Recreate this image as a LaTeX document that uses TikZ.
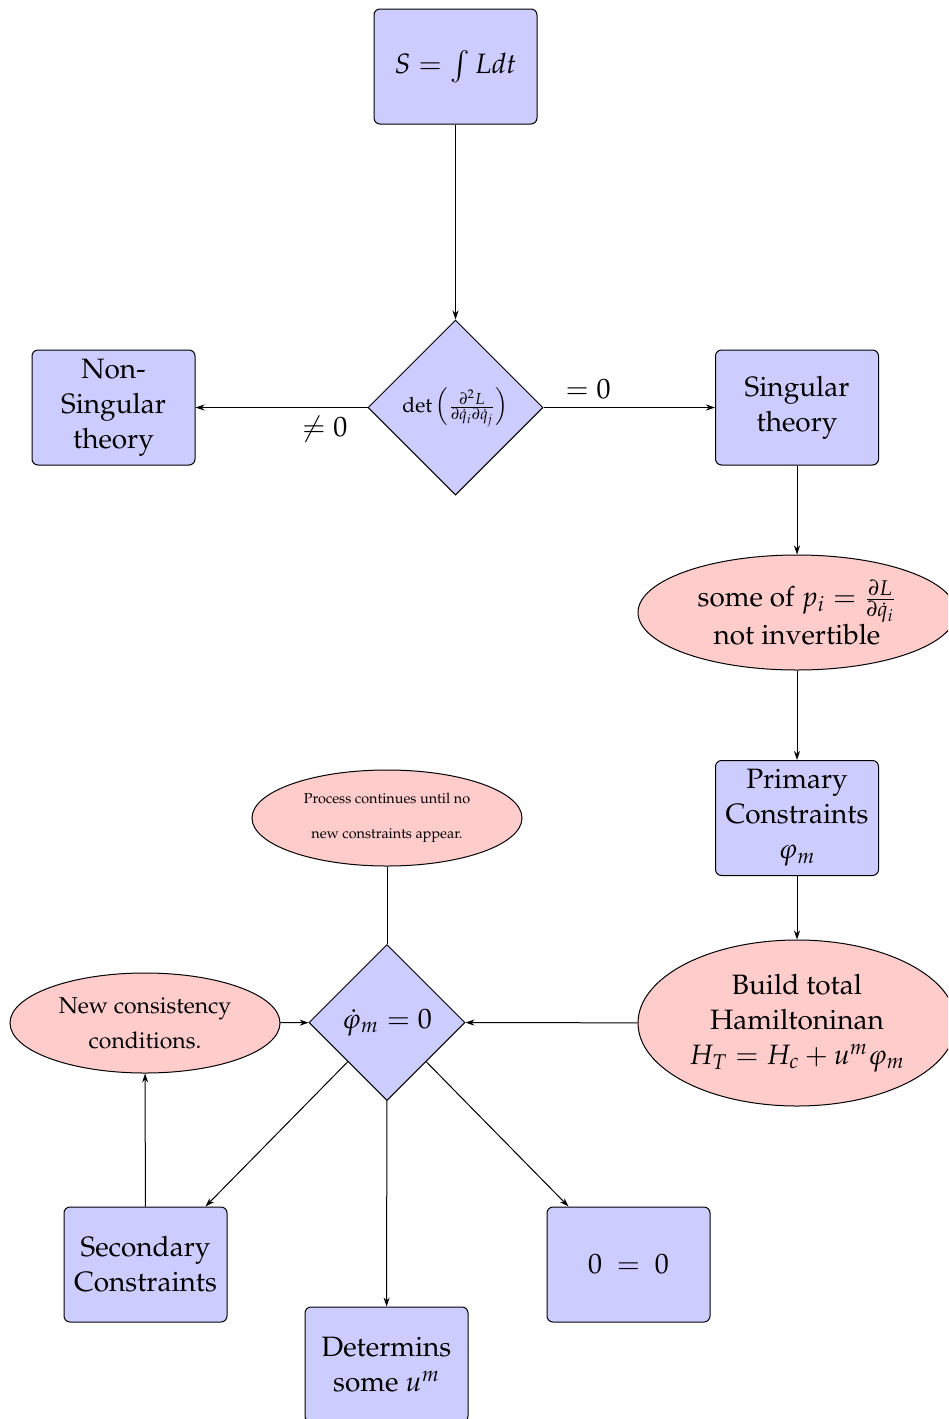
\documentclass[tikz,border=0pt]{standalone}
\usepackage[T1]{fontenc}
\usepackage{mathpazo}
\usetikzlibrary{shapes.geometric,arrows.meta,calc}
\newcommand\bigtxt{\fontsize{14}{17.5}\selectfont}
\begin{document}
\begin{tikzpicture}[x=0.5pt,y=-0.5pt,
  line width=0.5pt,
  box/.style={draw, rounded corners=3pt, fill=blue!20, minimum width=81.5pt, minimum height=57.5pt, align=center, inner sep=0pt, font=\bigtxt},
  dia/.style={draw, diamond, fill=blue!20, align=center, inner sep=0pt, font=\bigtxt},
  ell/.style={draw, ellipse, fill=red!20, align=center, inner sep=0pt, font=\bigtxt},
  arr/.style={-{Stealth[length=4.5pt,width=3pt]}},
  lbl/.style={font=\bigtxt, inner sep=2pt}]
\path[use as bounding box] (0,0) rectangle (948,1419);
\clip (0,0) rectangle (948,1419);
\node[box] (S) at (455.5,66.5) {$S=\int L dt$};
\node[dia, minimum size=87.5pt] (D) at (455.5,407.5) {\fontsize{10.5}{12}\selectfont $\det\left(\frac{\partial^2 L}{\partial\dot q_i\partial\dot q_j}\right)$};
\node[box] (NS) at (113.5,407.5) {Non-\\Singular\\theory};
\node[box] (ST) at (797,407.5) {Singular\\theory};
\node[ell, minimum width=159pt, minimum height=57.5pt] (E1) at (797,612.5) {some of $p_i=\frac{\partial L}{\partial\dot q_i}$\\not invertible};
\node[box] (PC) at (797,818) {Primary\\Constraints\\$\varphi_m$};
\node[ell, minimum width=159pt, minimum height=83pt] (HT) at (797,1023) {Build total\\Hamiltoninan\\$H_T=H_c+u^m\varphi_m$};
\node[dia, minimum size=78pt] (D2) at (387,1022.5) {$\dot\varphi_m=0$};
\node[ell, minimum width=135pt, minimum height=48pt, font=\fontsize{7.2}{17.5}\selectfont] (PR) at (387,818) {Process continues until no\\new constraints appear.};
\node[ell, minimum width=135pt, minimum height=50pt, font=\fontsize{11.5}{17.5}\selectfont] (NC) at (145,1023) {New consistency\\conditions.};
\node[box] (SC) at (145.5,1264.5) {Secondary\\Constraints};
\node[box] (DU) at (386.5,1364.5) {Determins\\some $u^m$};
\node[box] (ZZ) at (628.5,1264.5) {$0\ =\ 0$};
\draw[arr] (S) -- (D);
\draw[arr] (D) -- node[lbl, below=2pt, pos=0.25] {$\neq 0$} (NS);
\draw[arr] (D) -- node[lbl, above=2pt, pos=0.26] {$=0$} (ST);
\draw[arr] (ST) -- (E1);
\draw[arr] (E1) -- (PC);
\draw[arr] (PC) -- (HT);
\draw[arr] (HT) -- (D2);
\draw (PR) -- (D2);
\draw[arr] (NC) -- (D2);
\draw[arr] (D2) -- (DU);
\draw[arr] (SC) -- (NC);
\draw[arr] (D2.south west) -- ($(SC.north east)+(-22,0)$);
\draw[arr] (D2.south east) -- ($(ZZ.north west)+(22,0)$);
\end{tikzpicture}
\end{document}
